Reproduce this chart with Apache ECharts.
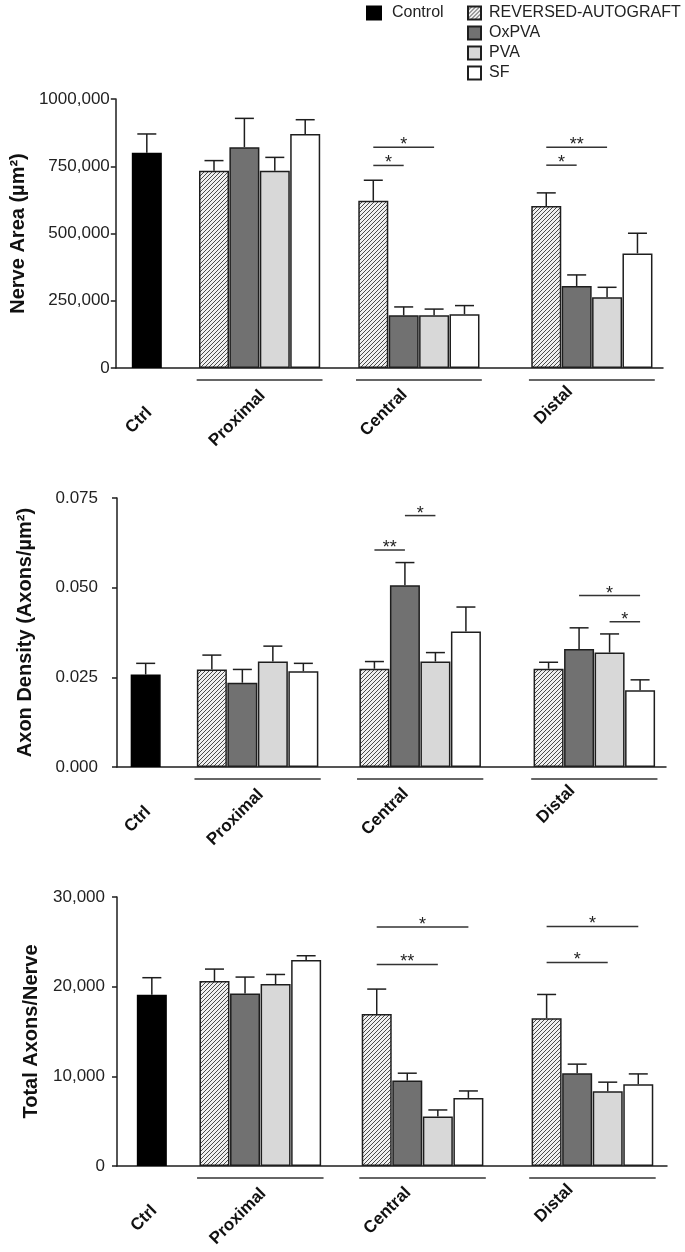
<!DOCTYPE html>
<html><head><meta charset="utf-8">
<script src="https://cdn.jsdelivr.net/npm/echarts@6/dist/echarts.min.js"></script>
<style>html,body{margin:0;padding:0;background:#fff}#c{width:685px;height:1252px}</style>
</head><body><div id="c"></div>
<script>
// ---------- DATA ----------
const groups = ['Ctrl', 'Proximal', 'Central', 'Distal'];
const treatments = ['REVERSED-AUTOGRAFT', 'OxPVA', 'PVA', 'SF'];
const controlName = 'Control';

// Nerve area (µm²): order Proximal, Central, Distal
const areaCtrl = [800000];
const areaCtrlSem = [70000];
const areaRA = [733000, 622000, 602000];
const areaRASem = [38000, 76000, 49000];
const areaOx = [821000, 196000, 305000];
const areaOxSem = [107000, 31000, 41000];
const areaPVA = [733000, 196000, 263000];
const areaPVASem = [50000, 23000, 37000];
const areaSF = [870000, 200000, 426000];
const areaSFSem = [53000, 32000, 75000];
const areaTicks = ['0', '250,000', '500,000', '750,000', '1000,000'];
// significance: [group, fromBar, toBar, y, text]
const areaSig = [[2, 0, 2, 821000, '*'], [2, 0, 1, 753000, '*'], [3, 0, 2, 821000, '**'], [3, 0, 1, 754000, '*']];

// Axon density (axons/µm²)
const densCtrl = [0.0258];
const densCtrlSem = [0.0031];
const densRA = [0.0272, 0.0274, 0.0274];
const densRASem = [0.0040, 0.0020, 0.0018];
const densOx = [0.0235, 0.0507, 0.0329];
const densOxSem = [0.0037, 0.0063, 0.0059];
const densPVA = [0.0294, 0.0294, 0.0319];
const densPVASem = [0.0043, 0.0025, 0.0052];
const densSF = [0.0267, 0.0378, 0.0214];
const densSFSem = [0.0022, 0.0068, 0.0029];
const densTicks = ['0.000', '0.025', '0.050', '0.075'];
const densSig = [[2, 0, 1, 0.0605, '**'], [2, 1, 2, 0.0701, '*'], [3, 1, 3, 0.0478, '*'], [3, 2, 3, 0.0405, '*']];

// Total axons / nerve
const totCtrl = [19100];
const totCtrlSem = [1900];
const totRA = [20620, 16940, 16490];
const totRASem = [1340, 2790, 2640];
const totOx = [19240, 9530, 10350];
const totOxSem = [1830, 820, 1010];
const totPVA = [20290, 5510, 8340];
const totPVASem = [1070, 740, 1010];
const totSF = [22970, 7590, 9120];
const totSFSem = [480, 780, 1150];
const totTicks = ['0', '10,000', '20,000', '30,000'];
const totSig = [[2, 0, 3, 26650, '*'], [2, 0, 2, 22475, '**'], [3, 0, 3, 26720, '*'], [3, 0, 2, 22700, '*']];

// ---------- LAYOUT / STYLE ----------
const FONT = '"Liberation Sans", Arial, Helvetica, sans-serif';
const INK = '#1e1e1e';
const barOffsets = [-1.5, -0.5, 0.5, 1.5];
const labelDx = [0.08, 0.1, -0.47, -0.72];
const labelDy = [42, 25, 24, 21];
const layouts = [
  { top: 99, height: 269, left: 115, right: 22, centers: [1.02, 4.73, 9.97, 15.66], nameGap: 84, labelMargin: 6 },
  { top: 498, height: 269, left: 117, right: 19, centers: [0.94, 4.61, 9.94, 15.65], nameGap: 82, labelMargin: 19 },
  { top: 897, height: 269, left: 117, right: 18, centers: [1.14, 4.69, 10.0, 15.56], nameGap: 76, labelMargin: 12 }
];

function makeHatch() {
  const c = document.createElement('canvas');
  c.width = 4; c.height = 4;
  const g = c.getContext('2d');
  g.fillStyle = '#efefef'; g.fillRect(0, 0, 4, 4);
  g.strokeStyle = '#4a4a4a'; g.lineWidth = 1;
  g.beginPath();
  g.moveTo(0, 4); g.lineTo(4, 0);
  g.moveTo(-1, 1); g.lineTo(1, -1);
  g.moveTo(3, 5); g.lineTo(5, 3);
  g.stroke();
  return c;
}
const hatch = { image: makeHatch(), repeat: 'repeat' };
const fills = [hatch, '#717171', '#d8d8d8', '#ffffff'];

const charts = [
  { title: 'Nerve Area (µm²)', max: 1000000, interval: 250000, ticks: areaTicks,
    ctrl: areaCtrl, ctrlSem: areaCtrlSem,
    vals: [areaRA, areaOx, areaPVA, areaSF], sems: [areaRASem, areaOxSem, areaPVASem, areaSFSem], sig: areaSig },
  { title: 'Axon Density (Axons/µm²)', max: 0.075, interval: 0.025, ticks: densTicks,
    ctrl: densCtrl, ctrlSem: densCtrlSem,
    vals: [densRA, densOx, densPVA, densSF], sems: [densRASem, densOxSem, densPVASem, densSFSem], sig: densSig },
  { title: 'Total Axons/Nerve', max: 30000, interval: 10000, ticks: totTicks,
    ctrl: totCtrl, ctrlSem: totCtrlSem,
    vals: [totRA, totOx, totPVA, totSF], sems: [totRASem, totOxSem, totPVASem, totSFSem], sig: totSig }
];

const grid = [], xAxis = [], yAxis = [], series = [];

charts.forEach((ch, i) => {
  const L = layouts[i];
  grid.push({ left: L.left, right: L.right, top: L.top, height: L.height });
  xAxis.push({
    gridIndex: i, type: 'value', min: 0, max: 18,
    axisLine: { show: true, lineStyle: { color: INK, width: 1.5 } },
    axisTick: { show: false }, axisLabel: { show: false }, splitLine: { show: false }
  });
  yAxis.push({
    gridIndex: i, type: 'value', min: 0, max: ch.max, interval: ch.interval,
    name: ch.title, nameLocation: 'middle', nameGap: L.nameGap,
    nameTextStyle: { fontFamily: FONT, fontWeight: 'bold', fontSize: 20, color: '#111' },
    axisLine: { show: true, lineStyle: { color: INK, width: 1.5 } },
    axisTick: { show: true, inside: false, length: 5, lineStyle: { color: INK, width: 1.5 } },
    axisLabel: { margin: L.labelMargin, fontFamily: FONT, fontSize: 17, color: '#222',
      formatter: v => ch.ticks[Math.round(v / ch.interval)] },
    splitLine: { show: false }
  });
  const barCommon = {
    type: 'bar', xAxisIndex: i, yAxisIndex: i, barWidth: 30, barGap: '-100%',
    animation: false
  };
  series.push(Object.assign({}, barCommon, {
    name: controlName,
    itemStyle: { color: '#000', borderColor: '#000', borderWidth: 1.5 },
    data: ch.ctrl.map(v => [L.centers[0], v])
  }));
  const errData = [[L.centers[0], ch.ctrl[0], ch.ctrlSem[0]]];
  treatments.forEach((t, k) => {
    series.push(Object.assign({}, barCommon, {
      name: t,
      itemStyle: { color: fills[k], borderColor: INK, borderWidth: 1.5 },
      data: ch.vals[k].map((v, g) => [L.centers[g + 1] + barOffsets[k], v])
    }));
    ch.vals[k].forEach((v, g) => errData.push([L.centers[g + 1] + barOffsets[k], v, ch.sems[k][g]]));
  });
  // error bars
  series.push({
    type: 'custom', name: 'err' + i, xAxisIndex: i, yAxisIndex: i, z: 1, animation: false,
    data: errData,
    renderItem: (params, api) => {
      const x = api.value(0), m = api.value(1), s = api.value(2);
      const p0 = api.coord([x, m]), p1 = api.coord([x, m + s]);
      const st = { stroke: INK, lineWidth: 1.5 };
      return { type: 'group', children: [
        { type: 'line', shape: { x1: p0[0], y1: p0[1], x2: p1[0], y2: p1[1] }, style: st },
        { type: 'line', shape: { x1: p1[0] - 9.5, y1: p1[1], x2: p1[0] + 9.5, y2: p1[1] }, style: st }
      ] };
    }
  });
  // significance brackets
  series.push({
    type: 'custom', name: 'sig' + i, xAxisIndex: i, yAxisIndex: i, animation: false,
    data: ch.sig.map(s => [L.centers[s[0]] + barOffsets[s[1]], s[3], L.centers[s[0]] + barOffsets[s[2]]]),
    renderItem: (params, api) => {
      const a = api.coord([api.value(0), api.value(1)]);
      const b = api.coord([api.value(2), api.value(1)]);
      return { type: 'group', children: [
        { type: 'line', shape: { x1: a[0], y1: a[1], x2: b[0], y2: b[1] }, style: { stroke: '#333', lineWidth: 1.5 } },
        { type: 'text', x: (a[0] + b[0]) / 2, y: a[1] - 2,
          style: { text: ch.sig[params.dataIndex][4], font: '18px ' + FONT, fill: '#222', align: 'center', verticalAlign: 'middle' } }
      ] };
    }
  });
  // group underlines
  series.push({
    type: 'custom', name: 'under' + i, xAxisIndex: i, yAxisIndex: i, animation: false,
    data: [1, 2, 3].map(g => [L.centers[g], 0]),
    renderItem: (params, api) => {
      const a = api.coord([api.value(0) - 2.07, 0]);
      const b = api.coord([api.value(0) + 2.07, 0]);
      return { type: 'line', shape: { x1: a[0], y1: a[1] + 12, x2: b[0], y2: b[1] + 12 }, style: { stroke: '#333', lineWidth: 1.5 } };
    }
  });
  // group labels
  series.push({
    type: 'custom', name: 'lab' + i, xAxisIndex: i, yAxisIndex: i, animation: false,
    data: groups.map((g, j) => [L.centers[j] + labelDx[j], 0, j]),
    renderItem: (params, api) => {
      const j = api.value(2);
      const p = api.coord([api.value(0), 0]);
      return { type: 'text', x: p[0], y: p[1] + labelDy[j], rotation: Math.PI / 4,
        style: { text: groups[j], font: 'bold 17px ' + FONT, fill: '#111', align: 'right', verticalAlign: 'middle' } };
    }
  });
});

const legendText = { fontFamily: FONT, fontSize: 16, color: '#222', lineHeight: 16 };
const option = {
  backgroundColor: '#fff',
  animation: false,
  legend: [
    { data: [controlName], left: 361, top: 0, itemWidth: 14, itemHeight: 13, icon: 'rect', selectedMode: false,
      textStyle: Object.assign({ padding: [0, 0, 0, 6] }, legendText) },
    { data: treatments, orient: 'vertical', left: 462, top: 0, itemWidth: 13, itemHeight: 13, itemGap: 4, icon: 'rect', selectedMode: false,
      textStyle: Object.assign({ padding: [0, 0, 0, 3] }, legendText) }
  ],
  grid, xAxis, yAxis, series
};
const chart = echarts.init(document.getElementById('c'), null, { renderer: 'canvas' });
chart.setOption(option);
</script></body></html>
